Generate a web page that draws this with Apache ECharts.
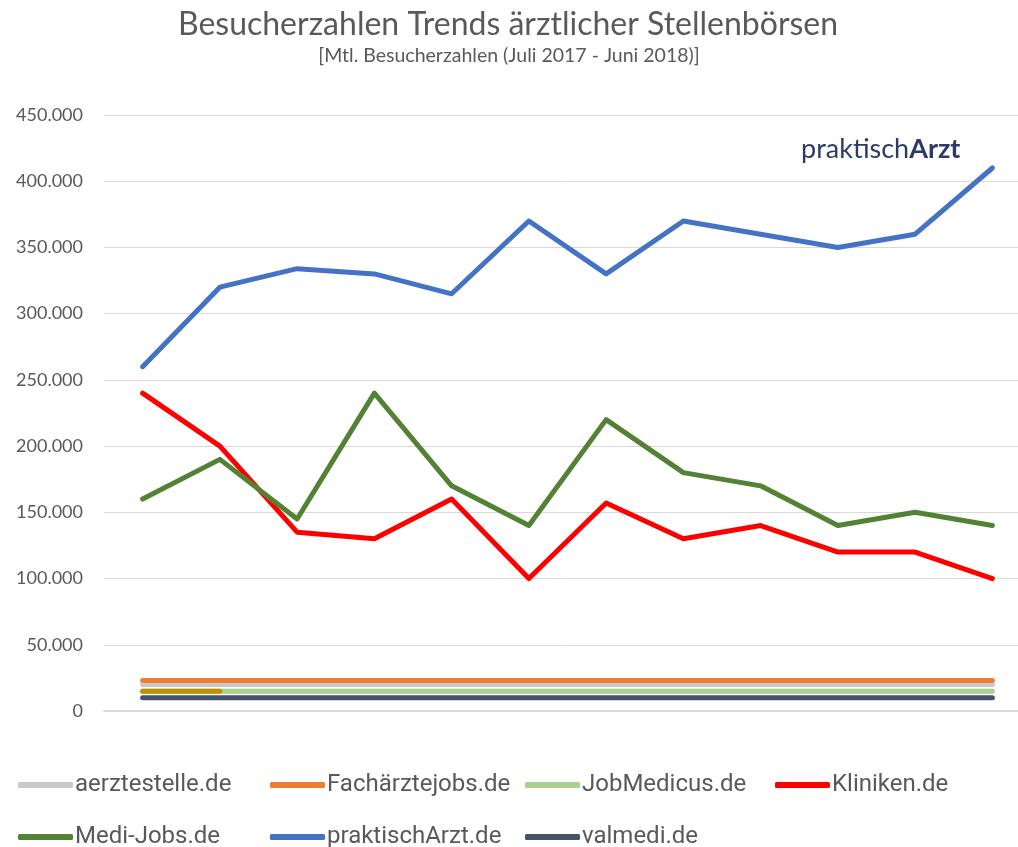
<!DOCTYPE html>
<html>
<head>
<meta charset="utf-8">
<script src="https://cdn.jsdelivr.net/npm/echarts@6/dist/echarts.min.js"></script>
<style>
  html, body { margin: 0; padding: 0; background: #fff; }
  #chart { width: 1018px; height: 847px; }
</style>
</head>
<body>
<div id="chart"></div>
<script>
// monthly visitors July 2017 - June 2018
var months = ['Jul 17','Aug 17','Sep 17','Okt 17','Nov 17','Dez 17','Jan 18','Feb 18','Mär 18','Apr 18','Mai 18','Jun 18'];
var aerztestelle = [20000,20000,20000,20000,20000,20000,20000,20000,20000,20000,20000,20000];
var facharztejobs = [23000,23000,23000,23000,23000,23000,23000,23000,23000,23000,23000,23000];
var jobmedicus = [15000,15000,15000,15000,15000,15000,15000,15000,15000,15000,15000,15000];
var kliniken = [240000,200000,135000,130000,160000,100000,157000,130000,140000,120000,120000,100000];
var medijobs = [160000,190000,145000,240000,170000,140000,220000,180000,170000,140000,150000,140000];
var praktischarzt = [260000,320000,334000,330000,315000,370000,330000,370000,360000,350000,360000,410000];
var valmedi = [10000,10000,10000,10000,10000,10000,10000,10000,10000,10000,10000,10000];
var extraSegment = [15000,15000,null,null,null,null,null,null,null,null,null,null];

var names = ['aerztestelle.de','Fachärztejobs.de','JobMedicus.de','Kliniken.de','Medi-Jobs.de','praktischArzt.de','valmedi.de'];
var values = [aerztestelle, facharztejobs, jobmedicus, kliniken, medijobs, praktischarzt, valmedi];
var colors = ['#c9c9c9','#ed7d31','#a9d18e','#ff0000','#548235','#4472c4','#44546a'];

var legendPos = [
  [18, 773], [270, 773], [525, 773], [775, 773],
  [18, 825], [270, 825], [525, 825]
];

function fmt(v) {
  return String(v).replace(/\B(?=(\d{3})+(?!\d))/g, '.');
}

var series = names.map(function (n, i) {
  return {
    name: n,
    type: 'line',
    data: values[i],
    symbol: 'none',
    lineStyle: { width: 5, color: colors[i], cap: 'round', join: 'round' },
    itemStyle: { color: colors[i] },
    z: 2 + i
  };
});
series.push({
  name: 'extra',
  type: 'line',
  data: extraSegment,
  symbol: 'none',
  lineStyle: { width: 5, color: '#bf9000', cap: 'round' },
  itemStyle: { color: '#bf9000' },
  z: 10
});

var legends = names.map(function (n, i) {
  return {
    data: [n],
    left: legendPos[i][0],
    top: legendPos[i][1],
    icon: 'roundRect',
    itemWidth: 55,
    itemHeight: 6,
    itemGap: 0,
    padding: 0,
    textStyle: { color: '#595959', fontSize: 24, fontFamily: 'Roboto', padding: [0, 0, 0, -3] },
    selectedMode: false
  };
});

var myChart = echarts.init(document.getElementById('chart'));
var option = {
  animation: false,
  title: [
    {
      text: 'Besucherzahlen Trends ärztlicher Stellenbörsen',
      left: 503, top: 4, textAlign: 'center',
      textStyle: { color: '#595959', fontSize: 32, fontWeight: 'normal', fontFamily: 'Lato' }
    },
    {
      text: '[Mtl. Besucherzahlen (Juli 2017 - Juni 2018)]',
      left: 504, top: 41, textAlign: 'center',
      textStyle: { color: '#595959', fontSize: 19.5, fontWeight: 'normal', fontFamily: 'Lato' }
    }
  ],
  legend: legends,
  grid: { left: 104, width: 927, top: 115, bottom: 136, containLabel: false, outerBoundsMode: 'none' },
  xAxis: {
    type: 'category',
    data: months,
    boundaryGap: true,
    axisLine: { show: true, lineStyle: { color: '#d9d9d9', width: 2 } },
    axisTick: { show: false },
    axisLabel: { show: false }
  },
  yAxis: {
    type: 'value',
    min: 0, max: 450000, interval: 50000,
    axisLine: { show: false },
    axisTick: { show: false },
    splitLine: { lineStyle: { color: '#d9d9d9', width: 1 } },
    axisLabel: { color: '#595959', fontSize: 18, fontFamily: 'Lato', margin: 21, formatter: fmt }
  },
  graphic: [{
    type: 'text',
    left: 801, top: 136,
    style: {
      text: '{a|praktisch}{b|Arzt}',
      fill: '#2d3a66',
      rich: {
        a: { fontSize: 27, fontFamily: 'Lato', fill: '#2d3a66', color: '#2d3a66' },
        b: { fontSize: 27, fontFamily: 'Lato', fontWeight: 'bold', fill: '#2d3a66', color: '#2d3a66' }
      }
    }
  }],
  series: series
};
myChart.setOption(option);
</script>
</body>
</html>
